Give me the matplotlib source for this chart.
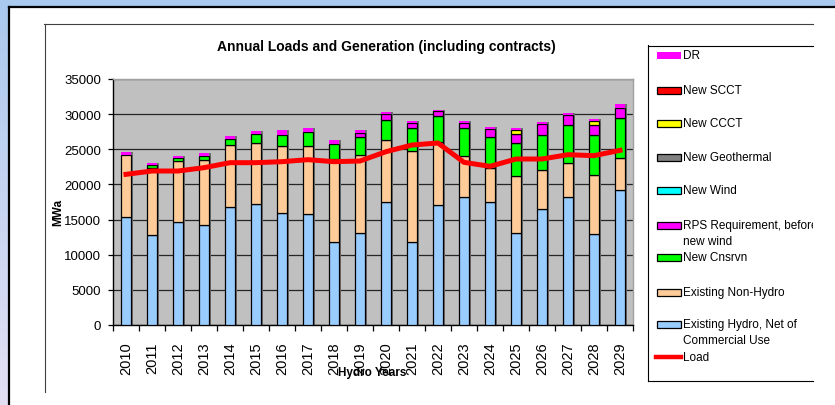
import matplotlib
matplotlib.use('Agg')
import matplotlib.pyplot as plt
import numpy as np
from matplotlib.patches import Rectangle
from matplotlib.lines import Line2D
from matplotlib.transforms import Bbox, TransformedBbox
from matplotlib.colors import LinearSegmentedColormap

plt.rcParams['font.family'] = ['Liberation Sans', 'DejaVu Sans']

# ---------------- data ----------------
years = [str(y) for y in range(2010, 2030)]
hydro      = [15400, 12850, 14700, 14226, 16834, 17166, 15933, 15791, 11759, 13135,
              17498, 11759, 17024, 18210, 17498, 13135, 16455, 18210, 12945, 19158]
non_hydro  = [8795, 9543, 8594, 9258, 8733, 8733, 9540, 9729, 11858, 11104,
              8875, 12953, 9065, 5790, 4886, 8015, 5549, 4838, 8348, 4601]
cnsrvn     = [0, 332, 427, 616, 948, 1280, 1611, 1944, 2140, 2466,
              2846, 3273, 3603, 3985, 4368, 4701, 5080, 5459, 5791, 5745]
rps        = [0, 0, 0, 0, 0, 0, 0, 0, 0, 650,
              800, 800, 700, 760, 1150, 1281, 1471, 1375, 1329, 1423]
wind       = [0] * 20
geothermal = [0] * 20
ccct       = [0, 0, 0, 0, 0, 0, 0, 0, 0, 0,
              0, 0, 0, 0, 0, 569, 0, 0, 569, 0]
scct       = [0] * 20
dr         = [380, 285, 332, 332, 379, 379, 664, 569, 569, 393,
              243, 244, 249, 284, 273, 332, 379, 237, 286, 474]
load       = [21435, 21910, 21910, 22384, 23095, 23095, 23237, 23522, 23237, 23332,
              24660, 25609, 25893, 23142, 22573, 23617, 23617, 24233, 24091, 24850]

series_names = ['Existing Hydro, Net of\nCommercial Use', 'Existing Non-Hydro', 'New Cnsrvn',
                'RPS Requirement, before\nnew wind', 'New Wind', 'New Geothermal',
                'New CCCT', 'New SCCT', 'DR']
series_vals = [hydro, non_hydro, cnsrvn, rps, wind, geothermal, ccct, scct, dr]
series_cols = ['#99ccff', '#ffcc99', '#00ff00', '#ff00ff', '#00ffff', '#808080',
               '#ffff00', '#ff0000', '#ff00ff']
series_edge = ['black'] * 8 + ['none']
y_ticks = [0, 5000, 10000, 15000, 20000, 25000, 30000, 35000]

# ---------------- figure ----------------
W, H = 835, 406
fig = plt.figure(figsize=(W / 100, H / 100), dpi=100)


def fx(x):
    return x / W


def fy(y):
    return 1 - y / H


# background gradient
bg = fig.add_axes([0, 0, 1, 1], zorder=-10)
cmap = LinearSegmentedColormap.from_list('bgc', ['#a9c9ee', '#e4e0f4'])
bg.imshow(np.linspace(0, 1, 256).reshape(-1, 1), cmap=cmap, aspect='auto',
          extent=[0, 1, 0, 1], origin='upper')
bg.set_xlim(0, 1)
bg.set_ylim(0, 1)
bg.axis('off')
bg.add_patch(Rectangle((fx(9), 0), 1 - fx(9), fy(8), transform=bg.transAxes,
                       facecolor='white', edgecolor='none'))
bg.add_line(Line2D([fx(9), fx(9)], [0, fy(8)], color='black', lw=1.6, transform=bg.transAxes))
bg.add_line(Line2D([fx(9), 1], [fy(8), fy(8)], color='black', lw=1.6, transform=bg.transAxes))
# inner chart frame
bg.add_line(Line2D([fx(44), fx(813)], [fy(24.5), fy(24.5)], color='#404040', lw=0.8,
                   transform=bg.transAxes))
bg.add_line(Line2D([fx(44.5), fx(44.5)], [fy(24.5), fy(393)], color='#404040', lw=0.8,
                   transform=bg.transAxes))

# main axes
ax = fig.add_axes([fx(113), fy(326), fx(633) - fx(113), fy(80) - fy(326)])
ax.set_facecolor('#c0c0c0')
x = np.arange(len(years))
bw = 0.38

totals = np.sum(np.array(series_vals), axis=0)
ax.bar(x + 0.09, totals, bw, color='#6e6e6e', edgecolor='none', zorder=2)
bottom = np.zeros(len(years))
for vals, col, ec in zip(series_vals, series_cols, series_edge):
    v = np.array(vals, dtype=float)
    mask = v > 0
    ax.bar(x[mask], v[mask], bw, bottom=bottom[mask], color=col,
           edgecolor=ec, linewidth=0.9, zorder=3)
    bottom += v

ax.plot(x, load, color='#ff0000', lw=3.6, zorder=5, solid_joinstyle='round')

ax.set_xlim(-0.5, len(years) - 0.5)
ax.set_ylim(0, 35000)
ax.set_yticks(y_ticks)
ax.set_yticklabels([str(t) for t in y_ticks], fontsize=9.5)
ax.tick_params(axis='y', length=3.6, width=0.9, pad=5, color='black')
ax.set_xticks(x)
ax.set_xticklabels(years, rotation=90, fontsize=10.5)
ax.tick_params(axis='x', which='major', length=0, pad=12)
ax.set_xticks(np.arange(-0.5, len(years)), minor=True)
ax.tick_params(axis='x', which='minor', length=4, width=0.9, direction='out', color='black')

ax.yaxis.grid(True, color='#262626', lw=0.9)
ax.set_axisbelow(True)
for s in ['left', 'bottom']:
    ax.spines[s].set_color('black')
    ax.spines[s].set_linewidth(1.0)
for s in ['top', 'right']:
    ax.spines[s].set_color('#a0a0a0')
    ax.spines[s].set_linewidth(1.0)

# texts
fig.text(fx(386), fy(47), 'Annual Loads and Generation (including contracts)',
         ha='center', va='center', fontsize=10, fontweight='bold')
fig.text(fx(58), fy(212), 'MWa', rotation=90, ha='center', va='center',
         fontsize=8.5, fontweight='bold')
fig.text(fx(372), fy(373), 'Hydro Years', ha='center', va='center',
         fontsize=8.5, fontweight='bold')

# legend (manual, clipped at chart edge)
clipbox = TransformedBbox(Bbox([[0, 0], [fx(813), 1]]), fig.transFigure)
leg_y = [56, 91, 124, 158, 191, 226, 258, 293, 325]
leg_order = list(range(len(series_names)))[::-1]
for yy, idx in zip(leg_y, leg_order):
    r = Rectangle((fx(657), fy(yy + 3.5)), fx(681) - fx(657), fy(yy - 3.5) - fy(yy + 3.5),
                  transform=fig.transFigure, facecolor=series_cols[idx],
                  edgecolor=series_edge[idx], lw=0.9)
    fig.add_artist(r)
    for k, line in enumerate(series_names[idx].split('\n')):
        t = fig.text(fx(683), fy(yy + k * 16.5), line, ha='left', va='center', fontsize=8.5)
        t.set_clip_box(clipbox)
        t.set_clip_on(True)
fig.add_artist(Line2D([fx(656), fx(681)], [fy(358), fy(358)], color='#ff0000', lw=3.2,
                      transform=fig.transFigure))
t = fig.text(fx(683), fy(358), 'Load', ha='left', va='center', fontsize=8.5)
# legend box
for xs, ys in [([647.5, 647.5], [46, 382]), ([647.5, 813], [46.5, 46.5]),
               ([647.5, 813], [382, 382])]:
    fig.add_artist(Line2D([fx(v) for v in xs], [fy(v) for v in ys], color='black', lw=0.8,
                          transform=fig.transFigure))

fig.savefig('out.png', dpi=100)
